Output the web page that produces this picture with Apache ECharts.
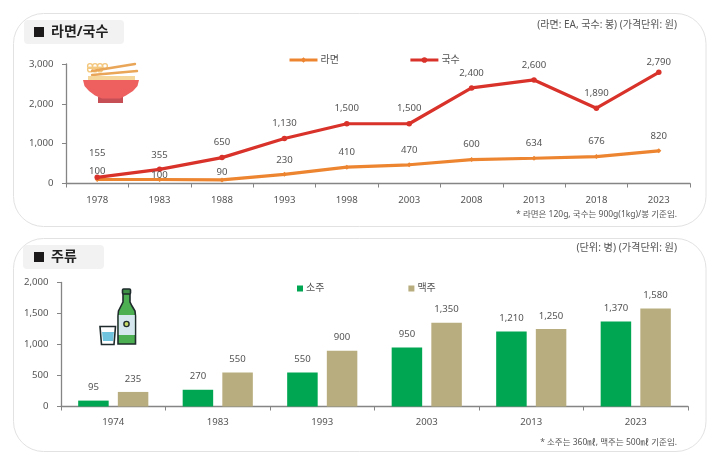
<!DOCTYPE html>
<html lang="ko">
<head>
<meta charset="utf-8">
<title>라면/국수, 주류 가격</title>
<script src="https://cdn.jsdelivr.net/npm/echarts@6/dist/echarts.min.js"></script>
<style>
  html, body { margin: 0; padding: 0; background: #fff; }
  #chart { width: 720px; height: 461px; }
</style>
</head>
<body>
<div id="chart"></div>
<script>
const noodleYears = ['1978', '1983', '1988', '1993', '1998', '2003', '2008', '2013', '2018', '2023']
const ramenValues = [100, 100, 90, 230, 410, 470, 600, 634, 676, 820]
const guksuValues = [155, 355, 650, 1130, 1500, 1500, 2400, 2600, 1890, 2790]
const liquorYears = ['1974', '1983', '1993', '2003', '2013', '2023']
const sojuValues = [95, 270, 550, 950, 1210, 1370]
const beerValues = [235, 550, 900, 1350, 1250, 1580]

// 라벨이 점에서 떨어진 거리 (원본에 맞춰 읽은 값)
const ramenLabelLift = [8, 4, 8, 14.5, 15, 14.5, 15, 14.5, 15, 15]
const guksuLabelLift = [24.5, 14.5, 15, 15, 15, 15, 15, 15, 15, 10.5]

const FONT = '"Noto Sans", "Noto Sans CJK KR", sans-serif'
const TEXT = '#555555'
const AXIS = '#858585'
const ORANGE = '#ec8430'
const RED = '#d8322a'
const GREEN = '#00a651'
const KHAKI = '#b8ad7e'
const LABEL_SIZE = 9.6

const fmt = (v) => v.toLocaleString('en-US')

const lineData = (values, lifts) => values.map((value, i) => ({
  value,
  label: { offset: [0, -lifts[i]] }
}))

const panel = (y, height) => ({
  type: 'rect', z: -10,
  shape: { x: 13.5, y, width: 692.5, height, r: 30 },
  style: { fill: '#fff', stroke: '#e2e2e2', lineWidth: 1 }
})

const chip = (x, y, width, height, text) => [
  { type: 'rect', z: -9, shape: { x, y, width, height, r: 4 }, style: { fill: '#f2f2f2' } },
  { type: 'rect', shape: { x: 34, y: y + 7, width: 10, height: 10 }, style: { fill: '#1c1a1a' } },
  {
    type: 'text', x: 51, y: y + 12,
    style: { text, font: `bold 14px ${FONT}`, fill: '#222', textVerticalAlign: 'middle' }
  }
]

const note = (y, text, size) => ({
  type: 'text', x: 677, y,
  style: { text, font: `${size}px ${FONT}`, fill: TEXT, textAlign: 'right', textVerticalAlign: 'middle' }
})

const stick = (x1, y1, x2, y2, stroke, lineWidth) => ({
  type: 'line', shape: { x1, y1, x2, y2 }, style: { stroke, lineWidth, lineCap: 'round' }
})

// 국수 그릇 아이콘
const bowlIcon = [
  ...[90, 95, 100, 105].map((x) => ({
    type: 'circle', shape: { cx: x, cy: 66, r: 2.4 }, style: { fill: 'none', stroke: '#f3c77d', lineWidth: 1.4 }
  })),
  ...[90, 95, 100].map((x) => ({
    type: 'circle', shape: { cx: x, cy: 69.5, r: 2.4 }, style: { fill: 'none', stroke: '#f3c77d', lineWidth: 1.4 }
  })),
  stick(92, 71, 135, 64, '#e9a558', 2.4),
  stick(92, 75, 137, 71, '#e9a558', 2.4),
  { type: 'rect', shape: { x: 88, y: 76, width: 47, height: 4 }, style: { fill: '#f6d79b' } },
  { type: 'rect', shape: { x: 98, y: 97, width: 25, height: 6 }, style: { fill: '#c64f56' } },
  {
    type: 'polygon',
    shape: { points: [[83, 80], [139, 80], [137.5, 86], [133, 91], [126, 95.5], [120, 98.5], [102, 98.5], [95, 95.5], [89, 91], [84.5, 86]] },
    style: { fill: '#ee6060' }
  }
]

// 소주병과 잔 아이콘
const bottleOutline = { stroke: '#1f2b2c', lineWidth: 1.6 }
const sojuIcon = [
  {
    type: 'polygon',
    shape: { points: [[123, 290], [130, 290], [130, 302], [132, 306], [135, 311], [135.5, 316], [135.5, 344], [118, 344], [118, 316], [118.5, 311], [121, 306], [123, 302]] },
    style: { fill: '#4cb052', ...bottleOutline }
  },
  { type: 'rect', shape: { x: 122.5, y: 289, width: 8, height: 5, r: 1 }, style: { fill: '#3d8f45', ...bottleOutline } },
  { type: 'rect', shape: { x: 118.8, y: 315, width: 16, height: 20 }, style: { fill: '#d7e7ef' } },
  { type: 'circle', shape: { cx: 126.5, cy: 324, r: 2.6 }, style: { fill: '#c9d96a', stroke: '#1f2b2c', lineWidth: 1.4 } },
  { type: 'polygon', shape: { points: [[102, 332], [114, 332], [113, 341], [103, 341]] }, style: { fill: '#6fc3dd' } },
  {
    type: 'polygon',
    shape: { points: [[100, 326.5], [115.5, 326.5], [114, 344.5], [101.5, 344.5]] },
    style: { fill: 'none', ...bottleOutline }
  }
]

const yAxis = (gridIndex, max, interval) => ({
  type: 'value', gridIndex, min: 0, max, interval,
  splitLine: { show: false },
  axisLine: { show: true, lineStyle: { color: AXIS, width: 1.3 } },
  axisTick: { show: true, length: 4, lineStyle: { color: AXIS } },
  axisLabel: { color: TEXT, fontSize: LABEL_SIZE, fontFamily: FONT, margin: 12.5, formatter: fmt }
})

const xAxis = (gridIndex, data, margin) => ({
  type: 'category', gridIndex, data,
  axisLine: { lineStyle: { color: AXIS, width: 1.3 } },
  axisTick: { show: true, alignWithLabel: false, length: 4, lineStyle: { color: AXIS } },
  axisLabel: { color: TEXT, fontSize: LABEL_SIZE, fontFamily: FONT, margin }
})

const lineSeries = (name, values, lifts, color, symbol, symbolSize) => ({
  name, type: 'line', xAxisIndex: 0, yAxisIndex: 0,
  data: lineData(values, lifts),
  symbol, symbolSize,
  lineStyle: { color, width: 3.2 },
  itemStyle: { color },
  label: {
    show: true, position: 'inside', color: TEXT, fontSize: LABEL_SIZE, fontFamily: FONT,
    formatter: (p) => fmt(p.value)
  },
  animation: false
})

const barSeries = (name, values, color) => ({
  name, type: 'bar', xAxisIndex: 1, yAxisIndex: 1,
  data: values,
  barWidth: 30.5, barGap: '30%',
  itemStyle: { color },
  label: {
    show: true, position: 'top', distance: 8.3, color: TEXT, fontSize: LABEL_SIZE, fontFamily: FONT,
    formatter: (p) => fmt(p.value)
  },
  animation: false
})

const legendText = { color: TEXT, fontSize: 10, fontFamily: FONT, padding: [0, 0, 0, -2] }

const option = {
  backgroundColor: '#fff',
  animation: false,
  textStyle: { fontFamily: FONT },
  grid: [
    { left: 66, top: 64, width: 624, height: 119.5 },
    { left: 61, top: 282.5, width: 627, height: 124 }
  ],
  xAxis: [xAxis(0, noodleYears, 12), xAxis(1, liquorYears, 11)],
  yAxis: [yAxis(0, 3000, 1000), yAxis(1, 2000, 500)],
  legend: [
    {
      data: ['라면', '국수'], left: 288, top: 55, padding: 0, itemGap: 70, itemWidth: 28, itemHeight: 7,
      lineStyle: { width: 3 },
      textStyle: legendText
    },
    {
      data: ['소주', '맥주'], left: 297, top: 283.5, padding: 0, itemGap: 84, itemWidth: 6, itemHeight: 6,
      icon: 'rect',
      textStyle: legendText
    }
  ],
  series: [
    lineSeries('라면', ramenValues, ramenLabelLift, ORANGE, 'diamond', 5),
    lineSeries('국수', guksuValues, guksuLabelLift, RED, 'circle', 5.5),
    barSeries('소주', sojuValues, GREEN),
    barSeries('맥주', beerValues, KHAKI)
  ],
  graphic: [
    panel(13.5, 213),
    panel(238.5, 213),
    ...chip(24, 20, 100, 24, '라면/국수'),
    ...chip(23, 245, 81, 24, '주류'),
    note(25, '(라면: EA, 국수: 봉) (가격단위: 원)', 10),
    note(215, '* 라면은 120g, 국수는 900g(1kg)/봉 기준임.', 8.5),
    note(248, '(단위: 병) (가격단위: 원)', 10.2),
    note(443, '* 소주는 360㎖, 맥주는 500㎖ 기준임.', 8.5),
    ...bowlIcon,
    ...sojuIcon
  ]
}

const chartInstance = echarts.init(document.getElementById('chart'), null, { renderer: 'canvas' })
chartInstance.setOption(option)
</script>
</body>
</html>
